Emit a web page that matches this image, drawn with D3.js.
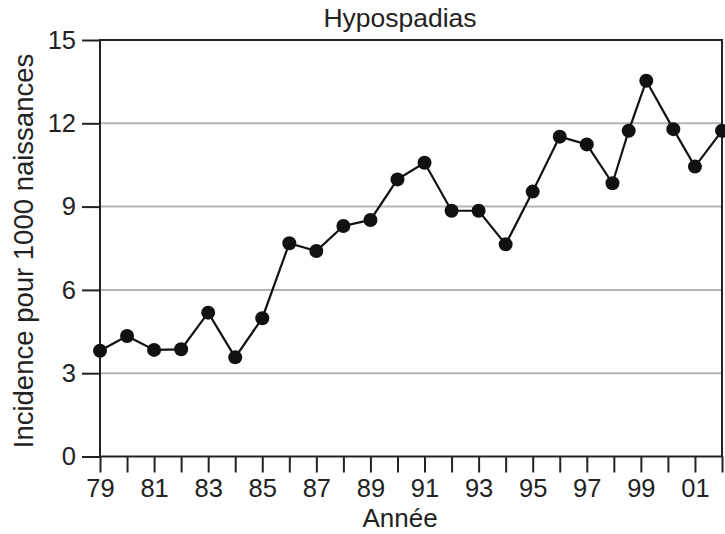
<html>
<meta charset="utf-8">
<script src="https://cdn.jsdelivr.net/npm/d3@7"></script>
<style>
  body { margin: 0; background: white; }
  text { font-family: "Liberation Sans", Arial, sans-serif; fill: #222; }
</style>
<body>
<div id="chart"></div>
<script>

// years (a few points sit between the year ticks)
var years = [1979, 1980, 1981, 1982, 1983, 1984, 1985, 1986, 1987, 1988, 1989, 1990,
             1991, 1992, 1993, 1994, 1995, 1996, 1997, 1997.95, 1998.55, 1999.2,
             2000.2, 2001, 2002]
var incidence = [3.81, 4.34, 3.84, 3.86, 5.18, 3.57, 4.98, 7.68, 7.40, 8.30, 8.52, 9.98,
                 10.58, 8.85, 8.85, 7.64, 9.54, 11.52, 11.24, 9.84, 11.73, 13.53,
                 11.79, 10.44, 11.73]
var yTicks = [0, 3, 6, 9, 12, 15]
var gridValues = [3, 6, 9, 12]
var xTicks = d3.range(1979, 2003)

var title = "Hypospadias"
var xTitle = "Année"
var yTitle = "Incidence pour 1000 naissances"

var width = 725, height = 534
var plotLeft = 100, plotRight = 722, plotTop = 40, plotBottom = 456.5

var svg = d3.select("#chart").append("svg")
  .attr("width", width)
  .attr("height", height)

var x = d3.scaleLinear().domain([1979, 2002]).range([plotLeft, plotRight])
var y = d3.scaleLinear().domain([0, 15]).range([plotBottom, plotTop])

// grid
svg.append("g").selectAll("line")
  .data(gridValues)
  .enter().append("line")
  .attr("x1", plotLeft).attr("x2", plotRight)
  .attr("y1", function(d){ return y(d) }).attr("y2", function(d){ return y(d) })
  .attr("stroke", "#b4b4b4")
  .attr("stroke-width", 2)

// frame
svg.append("rect")
  .attr("x", plotLeft).attr("y", plotTop)
  .attr("width", plotRight - plotLeft).attr("height", plotBottom - plotTop)
  .attr("fill", "none")
  .attr("stroke", "#222")
  .attr("stroke-width", 2)

var yAxis = svg.append("g")
  .attr("transform", "translate(" + plotLeft + ",0)")
  .call(d3.axisLeft(y).tickValues(yTicks).tickSize(18).tickPadding(6))
yAxis.select(".domain").remove()
yAxis.selectAll("line").attr("stroke", "#222").attr("stroke-width", 2)
yAxis.selectAll("text").style("font-size", "25.5px").attr("fill", "#222")

var xAxis = svg.append("g")
  .attr("transform", "translate(0," + plotBottom + ")")
  .call(d3.axisBottom(x).tickValues(xTicks).tickSize(16).tickPadding(6)
    .tickFormat(function(d){ return d % 2 == 1 ? d3.format("02")(d % 100) : "" }))
xAxis.select(".domain").remove()
xAxis.selectAll("line").attr("stroke", "#222").attr("stroke-width", 2)
xAxis.selectAll("text").style("font-size", "25.5px").attr("fill", "#222")

// series
var points = years.map(function(d, i){ return {year: d, value: incidence[i]} })

var line = d3.line()
  .x(function(d){ return x(d.year) })
  .y(function(d){ return y(d.value) })

svg.append("path")
  .datum(points)
  .attr("d", line)
  .attr("fill", "none")
  .attr("stroke", "#111")
  .attr("stroke-width", 2.2)

svg.append("g").selectAll("circle")
  .data(points)
  .enter().append("circle")
  .attr("cx", function(d){ return x(d.year) })
  .attr("cy", function(d){ return y(d.value) })
  .attr("r", 7)
  .attr("fill", "#111")

// titles
svg.append("text")
  .attr("x", 400).attr("y", 27)
  .attr("text-anchor", "middle")
  .style("font-size", "26.5px")
  .text(title)

svg.append("text")
  .attr("x", 400).attr("y", 527)
  .attr("text-anchor", "middle")
  .style("font-size", "26px")
  .text(xTitle)

svg.append("text")
  .attr("transform", "translate(33,251) rotate(-90)")
  .attr("text-anchor", "middle")
  .style("font-size", "27.5px")
  .text(yTitle)

</script>
</body>
</html>
